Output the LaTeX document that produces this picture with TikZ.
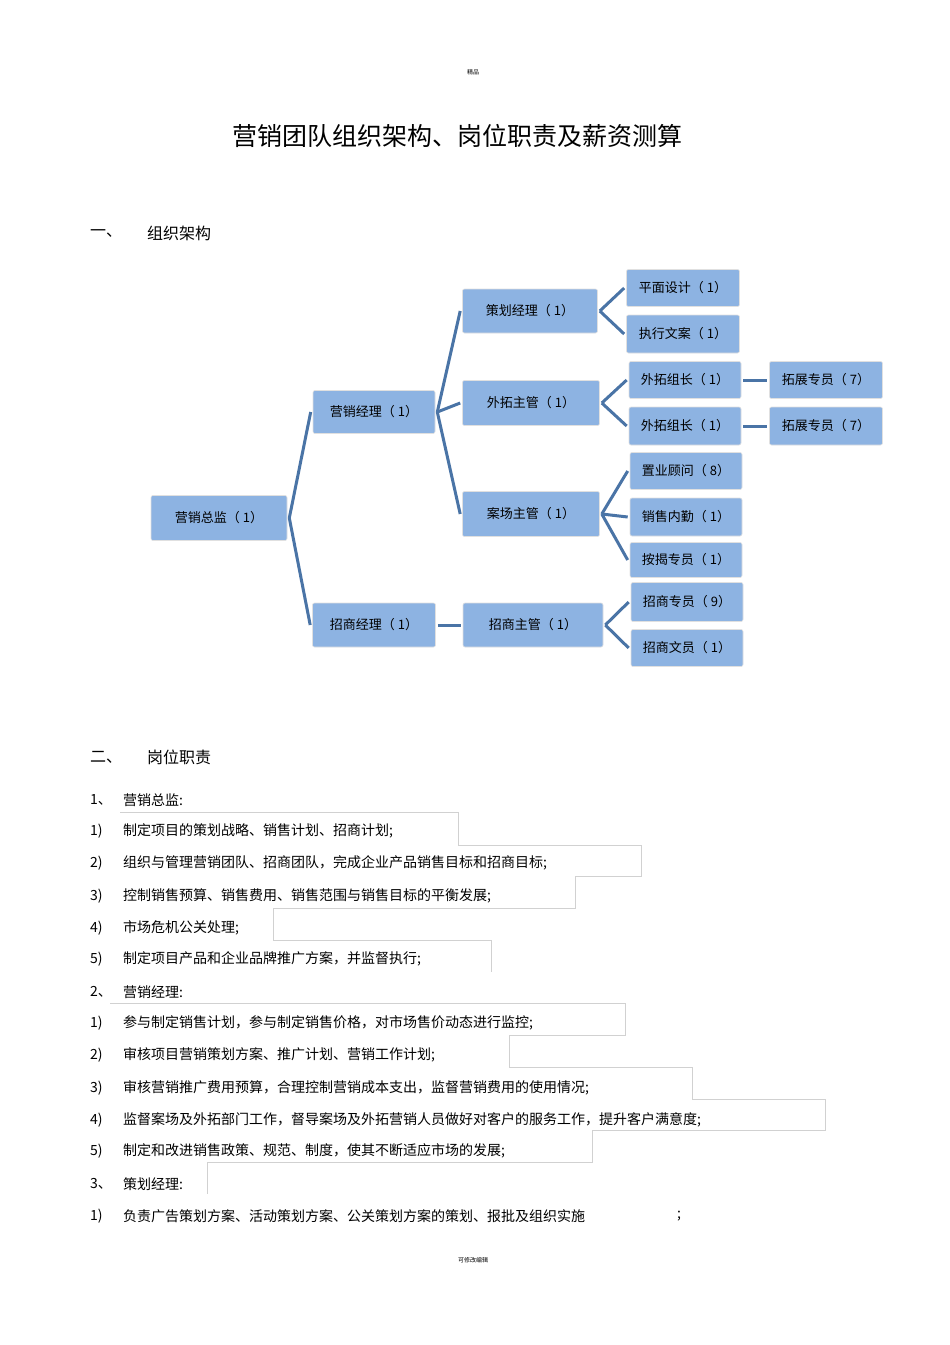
\documentclass[tikz,border=0pt]{standalone}
\usepackage{fontspec}
\setmainfont{Noto Sans CJK SC}
\begin{document}
\begin{tikzpicture}[x=1pt,y=-1pt,
  box/.style={draw=black!12,line width=0.6pt,fill=boxblue,rounded corners=2pt,inner sep=0pt,font=\fontsize{13}{15}\selectfont},
  conn/.style={draw=linkblue,line width=3pt},
  txt/.style={anchor=west,inner sep=0pt,font=\fontsize{14}{16}\selectfont},
  grid/.style={draw=black!18,line width=0.6pt}]
\definecolor{boxblue}{HTML}{8DB3E2}
\definecolor{linkblue}{HTML}{4A74A6}
\useasboundingbox (0,0) rectangle (950,1345);
\fill[white] (0,0) rectangle (950,1345);
\node[inner sep=0pt,font=\fontsize{6}{7}\selectfont] (hdr) at (473,72) {精品};
\node[inner sep=0pt,font=\fontsize{6}{7}\selectfont] (ftr) at (473,1260) {可修改编辑};
\node[inner sep=0pt,font=\fontsize{25}{28}\selectfont] (title) at (457,136) {营销团队组织架构、岗位职责及薪资测算};
\node[txt,font=\fontsize{16}{18}\selectfont] (s1n) at (90,233) {一、};
\node[txt,font=\fontsize{16}{18}\selectfont] (s1) at (147,233) {组织架构};
\node[txt,font=\fontsize{16}{18}\selectfont] (s2n) at (90,757) {二、};
\node[txt,font=\fontsize{16}{18}\selectfont] (s2) at (147,757) {岗位职责};
% boxes
\newcommand{\bx}[6]{\node[box,minimum width=#4,minimum height=#5] (#1) at (#2,#3) {#6};}
\bx{zj}{219}{518}{136}{45}{营销总监（ 1）}
\bx{yx}{374}{412}{122}{43}{营销经理（ 1）}
\bx{zs}{374}{625}{123}{44}{招商经理（ 1）}
\bx{ch}{530}{311}{135}{44}{策划经理（ 1）}
\bx{wt}{531}{403}{137}{45}{外拓主管（ 1）}
\bx{ac}{531}{514}{137}{45}{案场主管（ 1）}
\bx{zg}{533}{625}{140}{44}{招商主管（ 1）}
\bx{pm}{683}{288}{113}{37}{平面设计（ 1）}
\bx{zx}{683}{334}{113}{38}{执行文案（ 1）}
\bx{wz1}{685}{380}{112}{37}{外拓组长（ 1）}
\bx{wz2}{685}{426}{112}{38}{外拓组长（ 1）}
\bx{tz1}{826}{380}{113}{37}{拓展专员（ 7）}
\bx{tz2}{826}{426}{113}{38}{拓展专员（ 7）}
\bx{zy}{686}{471}{112}{37}{置业顾问（ 8）}
\bx{xs}{686}{517}{112}{38}{销售内勤（ 1）}
\bx{aj}{686}{560}{112}{35}{按揭专员（ 1）}
\bx{zy2}{687}{602}{112}{39}{招商专员（ 9）}
\bx{zw}{687}{648}{112}{37}{招商文员（ 1）}
% connectors
\foreach \a/\b in {zj/yx,zj/zs,yx/ch,yx/wt,yx/ac,zs/zg,ch/pm,ch/zx,wt/wz1,wt/wz2,wz1/tz1,wz2/tz2,ac/zy,ac/xs,ac/aj,zg/zy2,zg/zw}
  \draw[conn] ([xshift=2pt]\a.east) -- ([xshift=-2pt]\b.west);
% list text
\newcommand{\li}[4]{\node[txt] (#1n) at (90,#2) {#3}; \node[txt] (#1) at (123,#2) {#4};}
\li{a0}{800}{1、}{营销总监:}
\li{a1}{831}{1)}{制定项目的策划战略、销售计划、招商计划;}
\li{a2}{863}{2)}{组织与管理营销团队、招商团队，完成企业产品销售目标和招商目标;}
\li{a3}{896}{3)}{控制销售预算、销售费用、销售范围与销售目标的平衡发展;}
\li{a4}{928}{4)}{市场危机公关处理;}
\li{a5}{959}{5)}{制定项目产品和企业品牌推广方案，并监督执行;}
\li{b0}{992}{2、}{营销经理:}
\li{b1}{1023}{1)}{参与制定销售计划，参与制定销售价格，对市场售价动态进行监控;}
\li{b2}{1055}{2)}{审核项目营销策划方案、推广计划、营销工作计划;}
\li{b3}{1088}{3)}{审核营销推广费用预算，合理控制营销成本支出，监督营销费用的使用情况;}
\li{b4}{1120}{4)}{监督案场及外拓部门工作，督导案场及外拓营销人员做好对客户的服务工作，提升客户满意度;}
\li{b5}{1151}{5)}{制定和改进销售政策、规范、制度，使其不断适应市场的发展;}
\li{c0}{1184}{3、}{策划经理:}
\li{c1}{1216}{1)}{负责广告策划方案、活动策划方案、公关策划方案的策划、报批及组织实施}
\node[txt] (c1e) at (677,1216) {;};
% faint table borders
\draw[grid] (120,812) -- (458,812) -- (458,845) -- (641,845) -- (641,876) -- (575,876) -- (575,908) -- (273,908) -- (273,940) -- (491,940) -- (491,972);
\draw[grid] (110,1003) -- (625,1003) -- (625,1035) -- (509,1035) -- (509,1067) -- (692,1067) -- (692,1099) -- (825,1099) -- (825,1130) -- (592,1130) -- (592,1162) -- (207,1162) -- (207,1194);
\end{tikzpicture}
\end{document}
